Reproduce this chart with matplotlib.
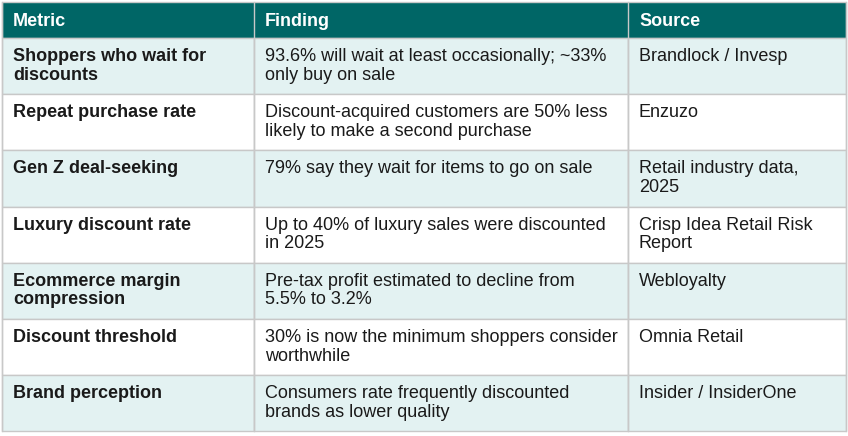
import matplotlib
matplotlib.use("Agg")
import matplotlib.pyplot as plt
from matplotlib.patches import Rectangle

headers = ["Metric", "Finding", "Source"]
metrics = ["Shoppers who wait for\ndiscounts", "Repeat purchase rate", "Gen Z deal-seeking",
           "Luxury discount rate", "Ecommerce margin\ncompression", "Discount threshold",
           "Brand perception"]
findings = ["93.6% will wait at least occasionally; ~33%\nonly buy on sale",
            "Discount-acquired customers are 50% less\nlikely to make a second purchase",
            "79% say they wait for items to go on sale",
            "Up to 40% of luxury sales were discounted\nin 2025",
            "Pre-tax profit estimated to decline from\n5.5% to 3.2%",
            "30% is now the minimum shoppers consider\nworthwhile",
            "Consumers rate frequently discounted\nbrands as lower quality"]
sources = ["Brandlock / Invesp", "Enzuzo", "Retail industry data,\n2025",
           "Crisp Idea Retail Risk\nReport", "Webloyalty", "Omnia Retail", "Insider / InsiderOne"]

W, H = 848, 436
fig = plt.figure(figsize=(W/100, H/100), dpi=100)
ax = fig.add_axes([0, 0, 1, 1])
ax.set_xlim(0, W); ax.set_ylim(H, 0); ax.axis("off")
plt.rcParams['font.family'] = ['Liberation Sans', 'DejaVu Sans']

xs = [2, 254, 628, 846]
top, hh, rh = 2, 36, 56.2
grid = "#c8c8c8"
ax.add_patch(Rectangle((xs[0], top), xs[-1]-xs[0], hh, facecolor="#006666", edgecolor=grid, lw=1))
for j, h in enumerate(headers):
    ax.text(xs[j]+11, top+hh/2+1, h, color="white", fontsize=13, fontweight="bold", va="center")
cols = [metrics, findings, sources]
for i in range(len(metrics)):
    y0 = top + hh + i*rh
    fc = "#e3f2f2" if i % 2 == 0 else "white"
    for j in range(3):
        ax.add_patch(Rectangle((xs[j], y0), xs[j+1]-xs[j], rh, facecolor=fc, edgecolor=grid, lw=1))
        ax.text(xs[j]+11, y0+10, cols[j][i], fontsize=13, va="top", color="#1a1a1a",
                fontweight="bold" if j == 0 else "normal", linespacing=1.12)
for j in range(4):
    ax.plot([xs[j], xs[j]], [top, top+hh+7*rh], color=grid, lw=1)
fig.savefig("out.png", dpi=100)
